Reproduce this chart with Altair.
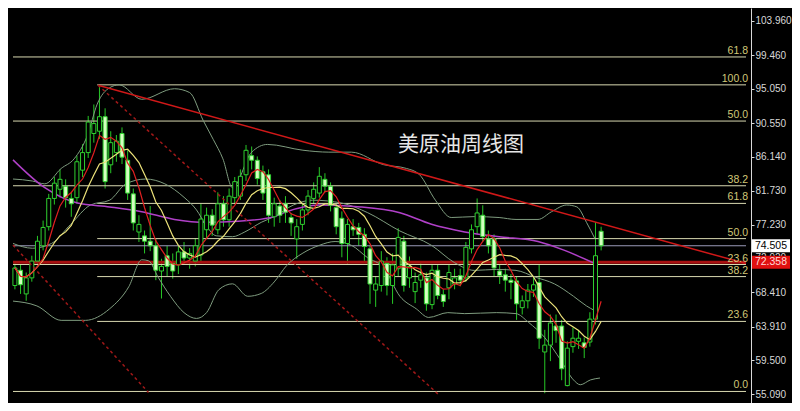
import altair as alt
import pandas as pd

# ---------------- weekly candles ----------------
opens = [69.3, 71.3, 68.2, 70.3, 72.5, 74.5, 77.0, 80.7, 81.9, 82.3,
         80.7, 80.8, 84.4, 86.7, 89.2, 89.5, 91.4, 85.1, 86.7, 89.2,
         85.7, 81.3, 76.3, 75.8, 75.1, 74.5, 71.2, 73.2, 72.2, 72.0,
         73.7, 72.9, 72.5, 73.3, 76.6, 78.5, 76.6, 80.0, 77.9, 80.8,
         81.0, 83.8, 86.3, 85.7, 84.2, 83.8, 78.3, 79.7, 80.0, 78.2,
         75.4, 77.3, 79.2, 80.7, 81.4, 83.2, 82.3, 79.5, 78.1, 74.8,
         77.0, 76.9, 76.0, 74.1, 68.7, 69.3, 72.2, 69.3, 71.5, 75.1,
         70.3, 68.5, 70.0, 70.3, 66.8, 71.3, 68.1, 69.0, 69.5, 70.6,
         70.3, 74.1, 77.0, 78.5, 75.4, 75.4, 71.2, 70.7, 70.0, 69.9,
         66.4, 67.3, 68.7, 69.7, 60.6, 61.5, 64.0, 64.0, 56.2, 61.3,
         62.0, 61.8, 61.9, 64.9, 76.4]
highs = [72.2, 72.0, 71.0, 73.2, 75.8, 77.8, 81.3, 83.5, 84.5, 83.2,
         81.5, 86.3, 87.8, 91.5, 93.0, 95.5, 92.5, 89.5, 89.0, 90.0,
         87.0, 82.0, 78.5, 76.5, 79.7, 75.5, 72.8, 74.5, 73.5, 74.5,
         75.0, 74.2, 75.5, 80.0, 79.5, 79.3, 81.5, 81.0, 82.0, 83.5,
         84.5, 87.7, 87.5, 86.2, 85.0, 84.5, 80.8, 80.5, 81.0, 78.8,
         78.0, 80.0, 81.8, 82.8, 84.8, 84.0, 82.8, 80.0, 79.0, 78.0,
         78.0, 77.5, 76.8, 74.5, 70.5, 73.8, 73.0, 73.5, 76.8, 75.8,
         73.1, 71.0, 72.5, 71.0, 72.0, 72.0, 68.8, 72.0, 71.5, 71.5,
         75.0, 77.3, 80.7, 79.8, 76.5, 76.0, 72.0, 71.5, 70.8, 70.5,
         68.0, 69.5, 70.5, 72.0, 63.5, 65.5, 65.5, 64.8, 62.0, 63.8,
         63.5, 62.5, 65.8, 77.6, 77.0]
lows = [68.8, 68.2, 67.3, 69.8, 72.0, 73.9, 76.5, 79.9, 80.8, 79.5,
        78.3, 80.0, 83.5, 86.0, 88.0, 88.5, 82.0, 84.0, 85.5, 85.2,
        80.5, 76.5, 75.0, 73.5, 73.8, 70.0, 67.6, 70.5, 70.2, 70.8,
        72.0, 71.5, 71.8, 72.5, 75.5, 75.8, 76.0, 77.0, 77.0, 80.0,
        80.5, 83.0, 84.5, 82.5, 80.5, 77.5, 77.0, 77.5, 77.5, 75.8,
        72.8, 76.5, 78.5, 80.0, 80.8, 81.5, 79.0, 76.0, 73.0, 72.0,
        75.8, 74.5, 72.5, 66.9, 66.5, 68.5, 68.0, 66.9, 70.5, 68.5,
        69.0, 67.0, 69.0, 66.0, 66.2, 67.5, 66.5, 67.5, 68.8, 69.2,
        69.8, 73.5, 76.0, 75.0, 73.5, 70.5, 69.5, 68.5, 67.5, 64.8,
        65.5, 66.3, 67.8, 61.0, 55.2, 59.4, 61.8, 56.9, 56.1, 60.5,
        61.0, 59.8, 61.3, 64.2, 73.9]
closes = [71.6, 69.4, 70.3, 72.5, 75.1, 76.9, 80.7, 82.7, 83.2, 80.8,
          80.0, 85.5, 86.7, 90.7, 90.5, 91.4, 82.9, 88.0, 88.2, 86.1,
          81.4, 77.5, 77.3, 75.1, 74.5, 71.3, 71.8, 71.8, 71.2, 73.7,
          72.9, 73.5, 74.5, 78.0, 78.5, 77.2, 80.0, 77.9, 81.0, 82.9,
          83.6, 87.0, 85.7, 83.3, 81.4, 78.5, 80.0, 78.5, 78.9, 77.5,
          77.0, 79.2, 81.0, 81.9, 83.6, 82.3, 79.8, 77.0, 74.8, 77.3,
          76.6, 76.0, 74.4, 69.5, 69.5, 72.5, 69.3, 72.0, 75.6, 69.3,
          71.8, 69.7, 70.7, 66.9, 71.3, 68.0, 67.2, 71.0, 70.3, 70.0,
          74.3, 76.6, 78.8, 75.7, 74.5, 71.6, 70.6, 70.0, 69.7, 66.9,
          67.3, 68.7, 69.4, 62.4, 61.5, 64.4, 63.4, 58.4, 61.1, 62.4,
          62.4, 61.2, 64.9, 73.2, 74.5]

# ---------------- indicator lines ----------------
purple_i = [-0.34, 5.3, 11.1, 16.8, 22.5, 28.3, 34.0, 39.6, 46.0, 48.2,
            54.0, 61.4, 68.3, 73.9, 79.8, 85.9, 92.8, 97.4, 102.9]
purple_p = [85.75, 82.10, 80.09, 79.59, 78.96, 77.95, 77.57, 77.70, 78.32, 78.96,
            79.84, 79.59, 78.83, 77.32, 76.32, 75.69, 75.06, 73.93, 72.17]

upper_i = [-0.34, 3.1, 5.3, 8.2, 10.5, 12.9, 14.6, 16.8, 18.5, 22.5,
           28.3, 31.0, 33.4, 35.2, 36.9, 38.6, 42.0, 44.8, 51.1, 55.7,
           59.7, 65.4, 69.5, 71.7, 74.6, 77.4, 81.5, 85.9, 88.9, 92.8,
           95.2, 97.9, 99.7, 101.4, 102.9]
upper_p = [83.24, 82.98, 82.61, 84.62, 85.88, 89.02, 93.05, 95.19, 95.57, 93.68,
           95.06, 94.56, 90.91, 88.40, 85.88, 82.10, 86.76, 87.77, 87.01, 86.76,
           86.76, 85.12, 84.62, 83.87, 80.47, 78.20, 78.32, 78.20, 77.95, 77.95,
           78.96, 79.84, 79.59, 77.57, 75.43]

middle_i = [-0.34, 3.1, 6.5, 9.9, 13.4, 16.8, 19.7, 23.2, 26.6, 30.0,
            32.2, 34.0, 35.7, 38.6, 40.8, 43.7, 46.0, 49.4, 52.8, 58.0,
            62.6, 68.3, 73.9, 78.0, 81.5, 85.4, 88.9, 92.3, 95.7, 99.1,
            101.4, 102.9]
middle_p = [74.81, 74.18, 74.81, 77.32, 79.84, 80.47, 82.61, 83.24, 82.61, 80.85,
            79.21, 77.07, 75.81, 75.69, 76.32, 77.57, 78.32, 79.84, 80.47, 80.09,
            78.83, 76.44, 74.56, 72.29, 71.28, 71.41, 71.28, 70.40, 69.52, 67.89,
            66.63, 66.00]

lower_i = [-0.34, 3.9, 8.2, 12.5, 16.8, 20.2, 22.5, 23.7, 25.4, 27.6,
           30.0, 32.2, 34.0, 36.2, 38.6, 41.3, 43.7, 46.0, 48.2, 51.1,
           54.0, 56.8, 59.7, 62.6, 65.4, 68.3, 71.2, 73.4, 76.8, 79.8,
           85.4, 88.9, 91.1, 94.0, 96.9, 99.1, 100.3, 102.1, 103.8]
lower_p = [67.26, 66.63, 64.74, 64.74, 66.25, 69.14, 72.67, 72.54, 70.40, 67.89,
           65.75, 64.99, 65.75, 68.77, 69.52, 67.89, 68.26, 69.77, 71.91, 73.55,
           74.56, 75.06, 74.56, 72.92, 71.66, 67.89, 66.25, 65.12, 65.75, 65.62,
           65.75, 65.62, 64.49, 62.48, 59.46, 56.94, 56.31, 56.94, 57.19]

# ---------------- Fibonacci levels ----------------
fib_price = [99.22, 90.83, 82.36, 72.05, 55.43, 95.57, 80.05, 75.44, 70.47, 64.60]
fib_label = ["61.8", "50.0", "38.2", "23.6", "0.0", "100.0", "61.8", "50.0", "38.2", "23.6"]
fib_start = [-0.34, -0.34, -0.34, -0.34, -0.34, 14.6, 14.6, 14.6, 14.6, 14.6]

# ---------------- trend lines ----------------
trend_id = ["red", "red", "dash1", "dash1", "dash2", "dash2"]
trend_i = [14.75, 129.7, 14.75, 75.1, -0.34, 23.7]
trend_p = [95.52, 72.17, 95.52, 55.07, 74.60, 55.30]

# price tags
tag_price = [74.505, 72.358]
tag_text = ["74.505", "72.358"]
tag_bg = ["#ffffff", "#e01010"]
tag_fg = ["#000000", "#ffd8d8"]
red_level = 72.36
bid_level = 74.505

tick_vals = [103.96, 99.46, 95.05, 90.55, 86.14, 81.73, 77.23, 72.92, 68.41, 63.91, 59.50, 55.09]
title_text = "美原油周线图"

XD = [-0.34, 129.7]
YD = [53.92, 105.63]

# ---------------- build ----------------
candles = pd.DataFrame({"i": list(range(len(closes))), "open": opens, "high": highs,
                        "low": lows, "close": closes})
xs = alt.Scale(domain=XD, nice=False, zero=False)
ys = alt.Scale(domain=YD, nice=False, zero=False)

yaxis = alt.Axis(orient="right", values=tick_vals, format=".3f", labelColor="#d8d8d8",
                 tickColor="#d8d8d8", domainColor="#d8d8d8", labelFont="Liberation Sans",
                 labelFontSize=10, tickSize=3, labelPadding=1, grid=False,
                 labelOverlap=False, labelFlush=False, domainWidth=1, title=None)


def X(f):
    return alt.X(f, type="quantitative", scale=xs, axis=None, title=None)


def Y(f):
    return alt.Y(f, type="quantitative", scale=ys, axis=yaxis, title=None)


fib_df = pd.DataFrame({"p": fib_price, "label": fib_label, "s": fib_start, "e": [XD[1]] * len(fib_price)})
fib_rules = alt.Chart(fib_df).mark_rule(color="#d8d8b0", strokeWidth=1).encode(
    x=X("s"), x2="e", y=Y("p"))
fib_text = alt.Chart(fib_df).mark_text(align="right", baseline="bottom", dy=-1,
                                       color="#d2c878", font="Liberation Sans", fontSize=10.5).encode(
    x=alt.value(740), y=Y("p"), text="label:N")

lvl_df = pd.DataFrame({"p": [bid_level, red_level], "s": [XD[0], XD[0]], "e": [XD[1], XD[1]]})
bid_rule = alt.Chart(lvl_df.iloc[[0]]).mark_rule(color="#9a9ab8", strokeWidth=1).encode(
    x=X("s"), x2="e", y=Y("p"))
red_rule = alt.Chart(lvl_df.iloc[[1]]).mark_rule(color="#a81010", strokeWidth=3).encode(
    x=X("s"), x2="e", y=Y("p"))


def line_layer(ii, pp, color, width=1.0):
    df = pd.DataFrame({"i": ii, "p": pp})
    return alt.Chart(df).mark_line(color=color, strokeWidth=width, interpolate="monotone",
                                   clip=True).encode(x=X("i"), y=Y("p"))


upper = line_layer(upper_i, upper_p, "#7f9c7f")
middle = line_layer(middle_i, middle_p, "#7f9c7f")
lower = line_layer(lower_i, lower_p, "#7f9c7f")
purple = line_layer(purple_i, purple_p, "#b040c8", 1.5)

ma_base = alt.Chart(candles)
ma5 = ma_base.transform_window(m="mean(close)", frame=[-4, 0], sort=[alt.SortField("i")]).mark_line(
    color="#e02020", strokeWidth=1.2, clip=True).encode(x=X("i"), y=Y("m:Q"))
ma10 = ma_base.transform_window(m="mean(close)", frame=[-9, 0], sort=[alt.SortField("i")]).mark_line(
    color="#ece27a", strokeWidth=1.2, clip=True).encode(x=X("i"), y=Y("m:Q"))

trend_df = pd.DataFrame({"id": trend_id, "i": trend_i, "p": trend_p})
red_trend = alt.Chart(trend_df[trend_df.id == "red"]).mark_line(
    color="#d01818", strokeWidth=1.5, clip=True).encode(x=X("i"), y=Y("p"))
dash_trend = alt.Chart(trend_df[trend_df.id != "red"]).mark_line(
    color="#a01818", strokeWidth=1.5, strokeDash=[3, 3], clip=True).encode(
    x=X("i"), y=Y("p"), detail="id:N")

wicks = alt.Chart(candles).mark_rule(color="#26c826", strokeWidth=1).encode(
    x=X("i"), y=Y("low"), y2="high")
bodies = alt.Chart(candles).mark_bar(width=4, stroke="#30d030", strokeWidth=1).encode(
    x=X("i"), y=Y("open"), y2="close",
    fill=alt.condition("datum.close >= datum.open", alt.value("#000000"), alt.value("#d4ffc0")))

tag_df = pd.DataFrame({"p": tag_price, "t": tag_text, "bg": tag_bg, "fg": tag_fg})
tag_box = alt.Chart(tag_df).mark_rule(strokeWidth=13, clip=False).encode(
    x=alt.value(744), x2=alt.value(782), y=Y("p"), color=alt.Color("bg:N", scale=None))
tag_txt = alt.Chart(tag_df).mark_text(align="center", baseline="middle", font="Liberation Sans",
                                      fontSize=10.5, clip=False).encode(
    x=alt.value(763), y=Y("p"), text="t:N", color=alt.Color("fg:N", scale=None))

title = alt.Chart(pd.DataFrame({"t": [title_text]})).mark_text(
    align="center", baseline="middle", font="Noto Sans CJK SC", fontSize=21, color="#e6e6e6").encode(
    x=alt.value(453), y=alt.value(137), text="t:N")

chart = alt.layer(
    wicks, fib_rules, bid_rule, red_rule, upper, middle, lower, purple,
    bodies, ma10, ma5, red_trend, dash_trend, fib_text, tag_box, tag_txt, title
).properties(
    width=743, height=395,
    background="#000000",
    padding={"left": 0, "top": 0, "right": 41, "bottom": 0},
    autosize=alt.AutoSizeParams(type="none"),
).configure_view(stroke=None)

chart.save("out.html", embed_options={"renderer": "svg", "actions": False})
